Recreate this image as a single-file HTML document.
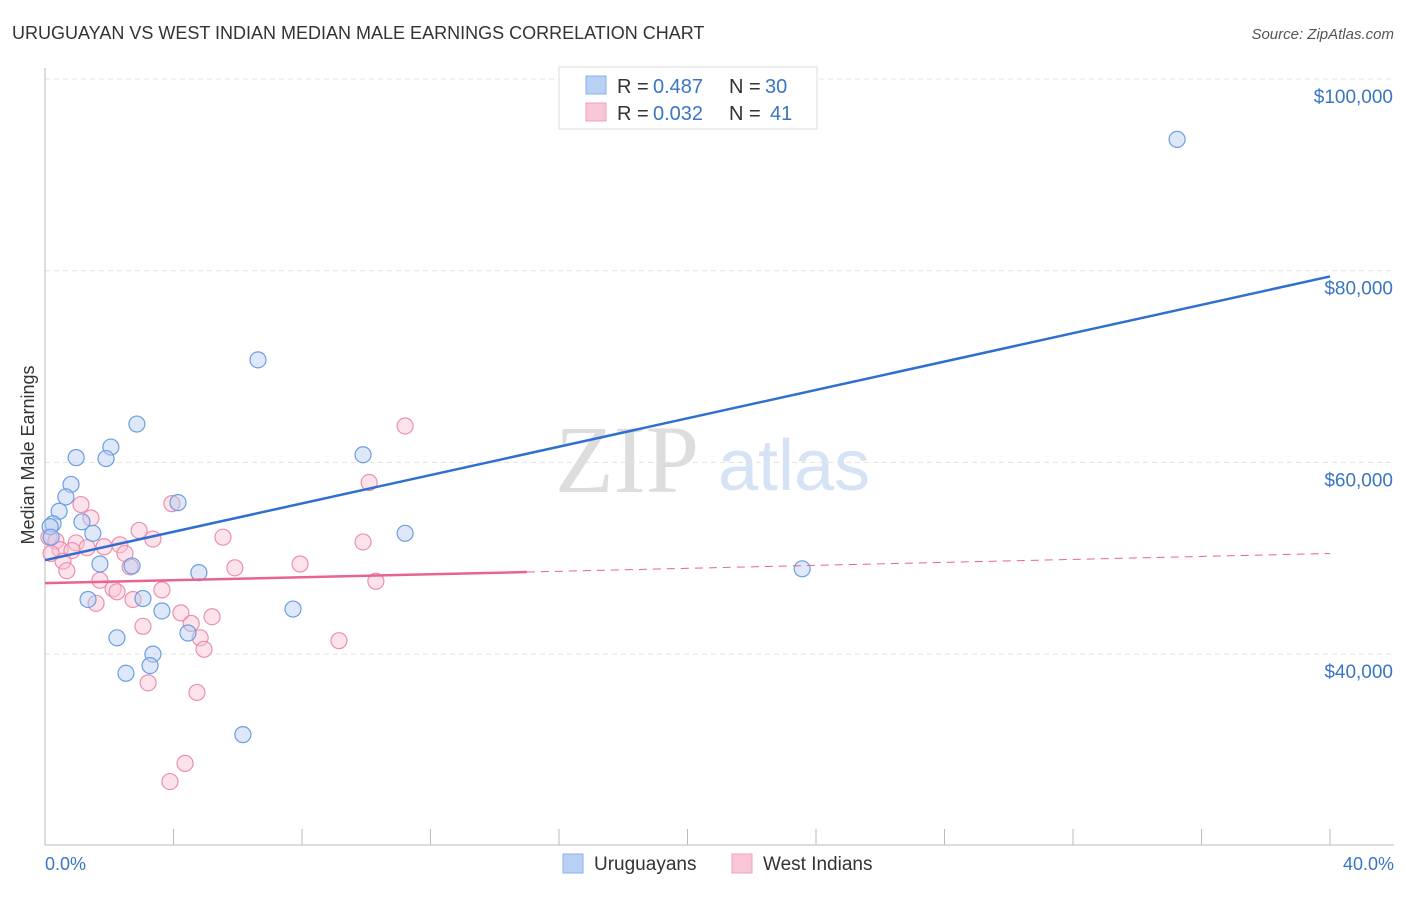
<!DOCTYPE html>
<html><head><meta charset="utf-8"><style>
body{margin:0;background:#fff;font-family:"Liberation Sans",sans-serif;}
</style></head><body>
<svg id="chart" width="1406" height="892" viewBox="0 0 1406 892" xmlns="http://www.w3.org/2000/svg">
<text x="12" y="39" font-size="18" fill="#333">URUGUAYAN VS WEST INDIAN MEDIAN MALE EARNINGS CORRELATION CHART</text>
<text x="1394" y="39" font-size="15" fill="#555" font-style="italic" text-anchor="end">Source: ZipAtlas.com</text>
<text x="555" y="492" font-size="96" fill="#ddd" font-family="Liberation Serif,serif">ZIP</text>
<text x="718" y="490" font-size="72" fill="#d6e3f5">atlas</text>
<g id="grid"></g>
<g id="axes"></g>
<g id="marks"></g>
<text transform="translate(34,455) rotate(-90)" font-size="18" fill="#333" text-anchor="middle">Median Male Earnings</text>
<text x="45" y="870" font-size="18" fill="#3a75c4">0.0%</text>
<text x="1394" y="870" font-size="18" fill="#3a75c4" text-anchor="end">40.0%</text>
<g>
<rect x="559" y="67" width="258" height="62" fill="#fff" stroke="#ddd"/>
<rect x="586" y="76" width="20" height="18" fill="#b7d0f4" stroke="#8ab0e6"/>
<rect x="586" y="103" width="20" height="18" fill="#f9c6d6" stroke="#f0a0bb"/>
<text x="617" y="93" font-size="20" fill="#333">R =</text>
<text x="653" y="93" font-size="20" fill="#3a75c4">0.487</text>
<text x="729" y="93" font-size="20" fill="#333">N =</text>
<text x="765" y="93" font-size="20" fill="#3a75c4">30</text>
<text x="617" y="120" font-size="20" fill="#333">R =</text>
<text x="653" y="120" font-size="20" fill="#3a75c4">0.032</text>
<text x="729" y="120" font-size="20" fill="#333">N =</text>
<text x="770" y="120" font-size="20" fill="#3a75c4">41</text>
</g>
<g>
<rect x="563" y="854" width="20" height="19" fill="#b7d0f4" stroke="#8ab0e6"/>
<text x="594" y="870" font-size="19" fill="#333">Uruguayans</text>
<rect x="732" y="854" width="20" height="19" fill="#f9c6d6" stroke="#f0a0bb"/>
<text x="763" y="870" font-size="19" fill="#333">West Indians</text>
</g>
</svg>
<script>
const yTicks=[40000,60000,80000,100000];
const yTickLabels=["$40,000","$60,000","$80,000","$100,000"];
const xTicks=[0,4,8,12,16,20,24,28,32,36,40];
const uruX=[35.24,6.63,2.86,2.05,0.97,1.90,9.90,0.81,0.65,4.14,0.44,1.15,0.25,0.16,1.49,11.21,0.19,1.71,2.71,4.79,23.57,1.34,3.05,3.64,7.72,4.45,2.24,3.36,3.27,2.52,6.16];
const uruY=[93.7,70.7,64.0,61.6,60.5,60.4,60.8,57.7,56.4,55.8,54.9,53.8,53.6,53.3,52.6,52.6,52.2,49.4,49.2,48.5,48.9,45.7,45.8,44.5,44.7,42.2,41.7,40.0,38.8,38.0,31.6];
const wiX=[11.21,10.09,1.12,3.95,1.43,2.93,5.54,3.36,0.12,0.34,0.97,9.90,2.33,1.84,1.31,0.47,0.84,2.49,0.19,0.56,7.94,5.91,2.65,0.68,1.71,10.30,2.12,3.64,2.24,2.74,1.59,4.23,5.20,3.05,4.55,4.83,9.15,4.95,3.21,4.73,4.36,3.89];
const wiY=[63.8,57.9,55.6,55.7,54.2,52.9,52.2,52.0,52.2,51.8,51.6,51.7,51.4,51.2,51.1,50.9,50.8,50.5,50.5,49.7,49.4,49.0,49.1,48.7,47.7,47.6,46.8,46.7,46.5,45.7,45.3,44.3,43.9,42.9,43.2,41.7,41.4,40.5,37.0,36.0,28.6,26.7];
const uruLine=[49.8,79.4];
const wiLine=[47.4,50.5];
const wiSolidEnd=15;
const NS="http://www.w3.org/2000/svg";
function sx(p){return 45+p/40*1285;}
function sy(k){return 79+(100-k)/20*191.7;}
function mk(t,a,parent){const e=document.createElementNS(NS,t);for(const k in a)e.setAttribute(k,a[k]);parent.appendChild(e);return e;}
const grid=document.getElementById('grid'),axes=document.getElementById('axes'),marks=document.getElementById('marks');
yTicks.forEach((v,i)=>{
 const y=sy(v/1000);
 const l=mk('line',{x1:45,x2:1394,y1:y,y2:y,stroke:'#e3e3e3','stroke-dasharray':'5,4'},grid);
 
 
 const t=mk('text',{x:1393,y:y+24,'font-size':19,fill:'#3a75c4','text-anchor':'end'},grid);
 t.textContent=yTickLabels[i];
 
 
});
const ax=mk('line',{x1:45,x2:45,y1:68,y2:845,stroke:'#bbb'},axes);


const bx=mk('line',{x1:45,x2:1394,y1:845,y2:845,stroke:'#bbb'},axes);


xTicks.forEach(v=>{
 const t=mk('line',{x1:sx(v),x2:sx(v),y1:829,y2:845,stroke:'#bbb'},axes);
 
 
});
function dots(X,Y,fill,stroke,name){
 X.forEach((x,i)=>{
  const c=mk('circle',{cx:sx(x),cy:sy(Y[i]),r:8,fill:fill,'fill-opacity':0.45,stroke:stroke,'stroke-width':1.2},marks);
  
  
 });
}
dots(wiX,wiY,'#f9c0d2','#ec8fae','west-indian-point');
dots(uruX,uruY,'#b5cdf2','#6c9ee0','uruguayan-point');
const ul=mk('line',{x1:sx(0),y1:sy(uruLine[0]),x2:sx(40),y2:sy(uruLine[1]),stroke:'#2f6fd0','stroke-width':2.5},marks);


const mid=wiLine[0]+(wiLine[1]-wiLine[0])*wiSolidEnd/40;
const wl=mk('line',{x1:sx(0),y1:sy(wiLine[0]),x2:sx(wiSolidEnd),y2:sy(mid),stroke:'#e8638e','stroke-width':2.5},marks);


const wd=mk('line',{x1:sx(wiSolidEnd),y1:sy(mid),x2:sx(40),y2:sy(wiLine[1]),stroke:'#e8638e','stroke-width':1,'stroke-dasharray':'8,6'},marks);


</script>
</body></html>
